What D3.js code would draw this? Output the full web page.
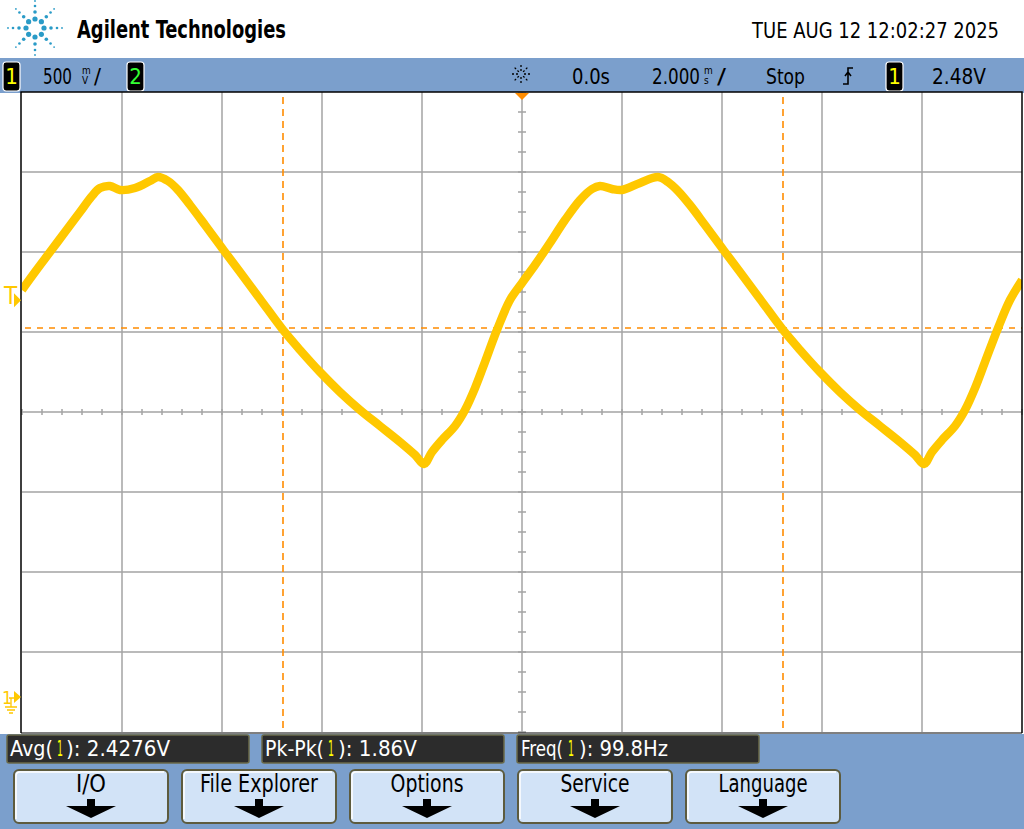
<!DOCTYPE html>
<html><head><meta charset="utf-8">
<script src="https://cdn.jsdelivr.net/npm/d3@7"></script>
<style>
html,body{margin:0;padding:0;background:#fff;}
svg{display:block;}
text{font-family:"Liberation Sans Narrow","DejaVu Sans Condensed","Liberation Sans",sans-serif;}
</style></head>
<body>
<svg id="c" width="1024" height="829"></svg>
<script>
// ---- data ----
const timeMs = [-10.00,-9.74,-9.44,-9.14,-8.84,-8.60,-8.44,-8.24,-8.04,-7.74,-7.44,-7.28,-7.08,-6.88,-6.64,-6.34,-6.00,-5.64,-5.24,-4.78,-4.44,-4.04,-3.64,-3.24,-2.84,-2.44,-2.14,-1.96,-1.80,-1.60,-1.34,-1.14,-0.94,-0.74,-0.50,-0.24,0.00,0.26,0.56,0.86,1.16,1.40,1.56,1.80,2.00,2.36,2.72,2.92,3.12,3.36,3.66,4.00,4.36,4.76,5.22,5.56,5.96,6.36,6.76,7.16,7.56,7.86,8.04,8.20,8.40,8.66,8.86,9.06,9.26,9.52,9.76,10.00];
const volts = [2.544,2.656,2.781,2.906,3.031,3.131,3.181,3.194,3.169,3.181,3.225,3.250,3.225,3.169,3.075,2.950,2.806,2.656,2.488,2.294,2.169,2.031,1.906,1.794,1.694,1.594,1.513,1.456,1.531,1.606,1.694,1.794,1.931,2.094,2.294,2.481,2.588,2.700,2.838,2.981,3.106,3.175,3.194,3.175,3.169,3.213,3.250,3.219,3.163,3.075,2.950,2.806,2.656,2.488,2.294,2.169,2.031,1.906,1.794,1.694,1.594,1.513,1.456,1.531,1.606,1.694,1.794,1.931,2.094,2.306,2.481,2.606];
const xDivs = [-10,-8,-6,-4,-2,0,2,4,6,8,10];          // ms (2 ms/div)
const voltsPerDiv = 0.5;
const groundV = 0, triggerLevelV = 2.48;
const cursorXms = [-4.78, 5.22];
const cursorYV = [2.306];
const headerTitle = "Agilent Technologies";
const dateText = "TUE AUG 12 12:02:27 2025";
const measLabels = ["Avg", "Pk-Pk", "Freq"];
const measValues = ["2.4276V", "1.86V", "99.8Hz"];
const softkeys = ["I/O", "File Explorer", "Options", "Service", "Language"];

// ---- layout ----
const svg = d3.select("#c");
const PL = 22, PR = 1022, PT = 92, PB = 732;
const x = d3.scaleLinear().domain([-10, 10]).range([PL, PR]);
const y = d3.scaleLinear().domain([-0.21875, 3.78125]).range([PB, PT]);
const blue = "#7b9fcc";

// header
svg.append("rect").attr("x",0).attr("y",0).attr("width",1024).attr("height",58).attr("fill","#fff");
const logo = svg.append("g").attr("transform","translate(35,28)").attr("fill","#2a9bc7");
const rings = [[9,2.6],[16,1.8],[22,1.3],[27,0.9]];
for (let k=0;k<8;k++){
  const a = k*Math.PI/4;
  rings.forEach(([r,s])=>{
    logo.append("circle").attr("cx",r*Math.cos(a)).attr("cy",r*Math.sin(a)).attr("r",s);
  });
}
svg.append("text").attr("x",77).attr("y",38).attr("font-size",25).attr("font-weight","bold")
  .attr("textLength",209).attr("lengthAdjust","spacingAndGlyphs").attr("fill","#000").text(headerTitle);
svg.append("text").attr("x",752).attr("y",38).attr("font-size",21)
  .attr("textLength",247).attr("lengthAdjust","spacingAndGlyphs").attr("fill","#000").text(dateText);

// status bar
svg.append("rect").attr("x",0).attr("y",58).attr("width",1024).attr("height",35).attr("fill",blue);
function chanBox(x0, label, col){
  svg.append("rect").attr("x",x0).attr("y",62).attr("width",17).attr("height",29).attr("rx",3)
    .attr("fill","#000").attr("stroke","#fff").attr("stroke-width",1.2);
  svg.append("text").attr("x",x0+8.5).attr("y",84).attr("text-anchor","middle").attr("font-size",22)
    .attr("fill",col).text(label);
}
chanBox(3,"1","#ffff00");
chanBox(127,"2","#33ff33");
chanBox(886,"1","#ffff00");
function stText(x0, str, w){
  svg.append("text").attr("x",x0).attr("y",84).attr("font-size",22).attr("fill","#000")
    .attr("textLength",w).attr("lengthAdjust","spacingAndGlyphs").text(str);
}
function stacked(x0, top, bot){
  const t = svg.append("text").attr("x",x0).attr("y",74).attr("font-size",10).attr("fill","#000");
  t.append("tspan").attr("x",x0).attr("y",74).text(top);
  t.append("tspan").attr("x",x0).attr("y",84).text(bot);
}
stText(43,"500",29); stacked(82,"m","V"); stText(94,"/",7);
stText(572,"0.0s",38);
stText(652,"2.000",48); stacked(704,"m","s"); stText(717,"/",9);
stText(766,"Stop",39);
stText(932,"2.48V",54);
const ic = svg.append("g").attr("transform","translate(521,74)").attr("stroke","#000").attr("stroke-width",1.3);
for (let k=0;k<8;k++){ const a=k*Math.PI/4;
  ic.append("line").attr("x1",3*Math.cos(a)).attr("y1",3*Math.sin(a)).attr("x2",11*Math.cos(a)).attr("y2",11*Math.sin(a))
    .attr("stroke-dasharray","2,2");}
svg.append("path").attr("d","M843,84 H848 V68 H853 M845,76 L848,72 L851,76").attr("fill","none").attr("stroke","#000").attr("stroke-width",1.6);

// plot area
svg.append("rect").attr("x",PL).attr("y",PT).attr("width",PR-PL).attr("height",PB-PT).attr("fill","#fff");
const grid = svg.append("g").attr("stroke","#a3a3a3").attr("stroke-width",1.5);
xDivs.slice(1,-1).forEach(t=>{
  grid.append("line").attr("x1",x(t)).attr("x2",x(t)).attr("y1",PT).attr("y2",PB);
});
const yDivs = d3.range(-0.21875 + voltsPerDiv, 3.78125, voltsPerDiv);
yDivs.forEach(v=>{
  grid.append("line").attr("x1",PL).attr("x2",PR).attr("y1",y(v)).attr("y2",y(v));
});
const yc = y(1.78125), xc = x(0);
d3.range(-10, 10.001, 0.4).forEach(t=>{
  grid.append("line").attr("x1",x(t)).attr("x2",x(t)).attr("y1",yc-3).attr("y2",yc+3);
});
d3.range(-0.21875, 3.79, voltsPerDiv/4).forEach(v=>{
  grid.append("line").attr("x1",xc-4).attr("x2",xc+4).attr("y1",y(v)).attr("y2",y(v));
});
// cursors
const cur = svg.append("g").attr("stroke","#ff8c00").attr("stroke-width",1.6);
cursorXms.forEach(t=>{
  cur.append("line").attr("x1",x(t)).attr("x2",x(t)).attr("y1",PT+5).attr("y2",PB).attr("stroke-dasharray","7,5");
});
cursorYV.forEach(v=>{
  cur.append("line").attr("x1",PL+3).attr("x2",PR).attr("y1",y(v)).attr("y2",y(v)).attr("stroke-dasharray","6,6");
});
// waveform
const pts = timeMs.map((t,i)=>[t, volts[i]]);
svg.append("clipPath").attr("id","clip").append("rect").attr("x",PL).attr("y",PT).attr("width",PR-PL).attr("height",PB-PT);
svg.append("path").datum(pts).attr("clip-path","url(#clip)")
  .attr("d", d3.line().x(d=>x(d[0])).y(d=>y(d[1])).curve(d3.curveCatmullRom.alpha(0.5)))
  .attr("fill","none").attr("stroke","#ffc800").attr("stroke-width",8.5).attr("stroke-linejoin","round");
// plot border
svg.append("path").attr("d",`M${PL-1},${PB+1} V${PT} H${PR} V${PB+1}`).attr("fill","none").attr("stroke","#000").attr("stroke-width",1.5);
svg.append("line").attr("x1",PL-1).attr("x2",PR).attr("y1",PB+1).attr("y2",PB+1).attr("stroke","#000").attr("stroke-width",1);
// trigger position marker
svg.append("path").attr("d",`M${x(0)-7},${PT+1} L${x(0)+7},${PT+1} L${x(0)},${PT+8} Z`).attr("fill","#ff8c00");
// trigger level marker T
const ty = y(triggerLevelV);
svg.append("path").attr("d",`M14,${ty-7} L21,${ty} L14,${ty+7} Z`).attr("fill","#ffc800");
svg.append("text").attr("x",4).attr("y",ty+4).attr("font-size",24).attr("fill","#ffc800").text("T");
// ground marker
const gy = y(groundV);
svg.append("path").attr("d",`M14,${gy-6} L21,${gy} L14,${gy+6} Z`).attr("fill","#ffc800");
svg.append("text").attr("x",2).attr("y",gy+7).attr("font-size",18).attr("fill","#ffc800").text("1");
svg.append("path").attr("d",`M9,${gy+1} H14 M11,${gy+1} V${gy+10} M5,${gy+10} H17 M7,${gy+13} H15 M9,${gy+16} H13`)
  .attr("fill","none").attr("stroke","#ffc800").attr("stroke-width",1.3);

// bottom panel
svg.append("rect").attr("x",0).attr("y",PB+2).attr("width",1024).attr("height",829-PB-2).attr("fill",blue);
const measW = 242, measX0 = 7, measStep = 255;
// [x, width] of label part, channel digit, value part (relative to box left)
const measParts = [[[3,43],[50,6],[59,104]],[[3,59],[66,6],[76,79]],[[4,42],[51,6],[62,89]]];
measLabels.forEach((lab,i)=>{
  const bx = measX0 + i*measStep;
  svg.append("rect").attr("x",bx).attr("y",735).attr("width",measW).attr("height",28).attr("rx",2)
    .attr("fill","#2c2c2c").attr("stroke","#6b6a48").attr("stroke-width",1.5);
  const parts = [lab+"(", "1", "): "+measValues[i]];
  const cols = ["#fff","#ffff00","#fff"];
  parts.forEach((p,j)=>{
    svg.append("text").attr("x",bx+measParts[i][j][0]).attr("y",756).attr("font-size",22).attr("fill",cols[j])
      .attr("textLength",measParts[i][j][1]).attr("lengthAdjust","spacingAndGlyphs").text(p);
  });
});
const skW = 154, skX0 = 14, skStep = 168;
const skTextW = [30, 118, 73, 69, 89];
softkeys.forEach((lab,i)=>{
  const bx = skX0 + i*skStep, cx = bx + skW/2;
  svg.append("rect").attr("x",bx).attr("y",770).attr("width",skW).attr("height",53).attr("rx",5)
    .attr("fill","#d2e3f7").attr("stroke","#5d5b3e").attr("stroke-width",2);
  svg.append("path").attr("d",`M${bx+2},${819} V${776} Q${bx+2},${772} ${bx+6},${772} H${bx+skW-4}`)
    .attr("fill","none").attr("stroke","#fff").attr("stroke-width",1.5);
  svg.append("text").attr("x",cx).attr("y",792).attr("text-anchor","middle").attr("font-size",24).attr("fill","#000")
    .attr("textLength",skTextW[i]).attr("lengthAdjust","spacingAndGlyphs").text(lab);
  svg.append("path").attr("d",`M${cx-4},799 H${cx+4} V806 H${cx+25} L${cx},818 L${cx-25},806 H${cx-4} Z`).attr("fill","#000");
});
</script>
</body></html>
